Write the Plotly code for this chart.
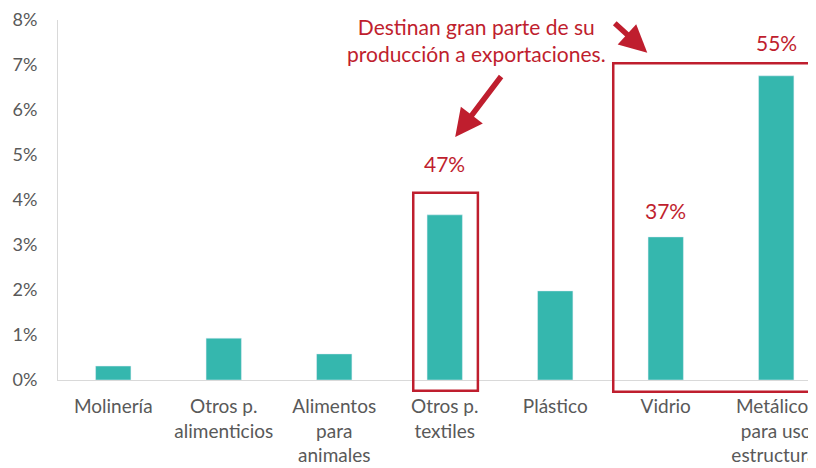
import plotly.graph_objects as go

categories = ["Molinería", "Otros p.<br>alimenticios", "Alimentos<br>para<br>animales",
              "Otros p.<br>textiles", "Plástico", "Vidrio", "Metálicos<br>para uso<br>estructural"]
values = [0.31, 0.93, 0.58, 3.67, 1.98, 3.18, 6.76]
export_share_labels = {3: "47%", 5: "37%", 6: "55%"}
y_ticks = [0, 1, 2, 3, 4, 5, 6, 7, 8]
y_tick_text = [f"{v}%" for v in y_ticks]
note_text = "Destinan gran parte de su<br>producción a exportaciones."

BAR = "#35B7AE"
RED = "#BF1E2E"
GRAY = "#595959"
FONT = "Lato, 'Open Sans', sans-serif"

X_RANGE = [-0.5, 6.36]
Y_RANGE = [0, 8]


def px(xd):
    return (xd - X_RANGE[0]) / (X_RANGE[1] - X_RANGE[0])


def py(yd):
    return (yd - Y_RANGE[0]) / (Y_RANGE[1] - Y_RANGE[0])


x = list(range(len(categories)))
fig = go.Figure(go.Bar(x=x, y=values, marker_color=BAR, width=0.32, hoverinfo="skip"))

# Export share labels
label_y = {3: 4.82, 5: 3.76, 6: 7.49}
for i, t in export_share_labels.items():
    fig.add_annotation(x=i, y=label_y[i], text=t, showarrow=False,
                       font=dict(family=FONT, size=21, color=RED), yanchor="middle")

# Highlight rectangles (paper refs so they may extend below the axis)
fig.add_shape(type="rect", xref="paper", yref="paper",
              x0=px(3 - 0.285), x1=px(3 + 0.30), y0=py(-0.24), y1=py(4.16),
              line=dict(color=RED, width=2.5), fillcolor="rgba(0,0,0,0)")
fig.add_shape(type="rect", xref="paper", yref="paper",
              x0=px(5 - 0.475), x1=px(6 + 0.345), y0=py(-0.26), y1=py(7.04),
              line=dict(color=RED, width=2.5), fillcolor="rgba(0,0,0,0)")

# Note text
fig.add_annotation(x=3.285, y=7.56, text=note_text, showarrow=False,
                   font=dict(family=FONT, size=21, color=RED), align="center",
                   yanchor="middle")
# Arrows
fig.add_annotation(x=3.095, y=5.4, ax=47, ay=-62, text="", showarrow=True,
                   arrowhead=2, arrowsize=1.0, arrowwidth=5.5, arrowcolor=RED)
fig.add_annotation(x=4.833, y=7.27, ax=-34, ay=-31, text="", showarrow=True,
                   arrowhead=2, arrowsize=1.0, arrowwidth=5.5, arrowcolor=RED)

# The page body has an 8px margin, so the figure is 8px smaller and margins shifted.
fig.update_layout(
    width=808, height=460,
    margin=dict(l=50, r=0, t=12, b=88),
    plot_bgcolor="white", paper_bgcolor="white",
    showlegend=False,
    font=dict(family=FONT, size=19, color=GRAY),
)
fig.update_xaxes(range=X_RANGE, tickvals=x, ticktext=categories,
                 showline=True, linecolor="#D9D9D9", linewidth=1,
                 showgrid=False, zeroline=False, ticks="", automargin=False,
                 ticklabeloverflow="allow", ticklabelstandoff=9,
                 tickfont=dict(family=FONT, size=19, color=GRAY))
fig.update_yaxes(range=Y_RANGE, tickvals=y_ticks, ticktext=y_tick_text,
                 showline=True, linecolor="#D9D9D9", linewidth=1,
                 showgrid=False, zeroline=False, ticks="", automargin=False,
                 ticklabelstandoff=16,
                 tickfont=dict(family=FONT, size=18, color=GRAY))

fig.write_html("out.html")
